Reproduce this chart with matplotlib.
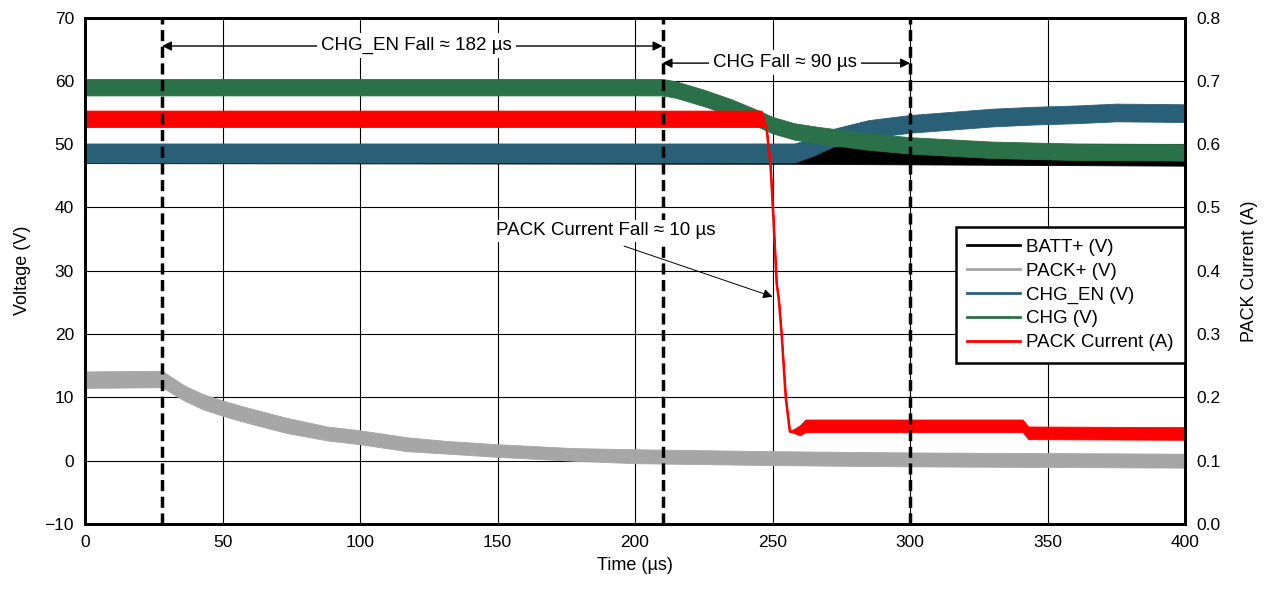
import numpy as np
import matplotlib.pyplot as plt
from matplotlib.lines import Line2D

plt.rcParams['font.family'] = ['Liberation Sans', 'DejaVu Sans']
plt.rcParams['font.size'] = 13

# ______ traces (time in us, centre value, noise half width) ______
batt_t = [0, 255, 400]
batt_v = [48.4, 48.3, 47.9]
batt_hw = [1.4, 1.4, 1.3]

pack_t = [0, 28, 36, 43, 50, 58, 73, 88, 100, 117, 132, 150, 177, 200, 250, 300, 350, 400]
pack_v = [12.8, 12.9, 10.7, 9.3, 8.3, 7.3, 5.6, 4.3, 3.7, 2.6, 2.1, 1.6, 1.0, 0.7, 0.4, 0.2, 0.1, 0.0]
pack_hw = [1.3, 1.3, 1.2, 1.2, 1.2, 1.2, 1.2, 1.1, 1.1, 1.1, 1.0, 1.0, 1.0, 1.1, 1.1, 1.1, 1.1, 1.1]

en_t = [0, 258, 265, 272, 285, 300, 315, 330, 345, 360, 375, 400]
en_v = [48.6, 48.6, 49.6, 51.0, 52.4, 53.2, 53.7, 54.2, 54.5, 54.7, 55.0, 54.9]
en_hw = [1.5, 1.5, 1.4, 1.4, 1.4, 1.4, 1.4, 1.4, 1.4, 1.4, 1.4, 1.4]

chg_t = [0, 210, 215, 225, 235, 245, 250, 258, 267, 285, 300, 330, 360, 400]
chg_v = [59.0, 59.0, 58.6, 57.3, 55.8, 54.0, 53.0, 52.0, 51.4, 50.4, 49.8, 49.1, 48.8, 48.7]
chg_hw = [1.3, 1.3, 1.3, 1.3, 1.3, 1.3, 1.3, 1.3, 1.3, 1.3, 1.3, 1.3, 1.3, 1.3]

cur_t = [0, 246, 247.8, 249.3, 250.3, 251.5, 252.3, 253.3, 254.8, 256.3, 260, 262, 341, 343, 400]
cur_a = [0.640, 0.640, 0.627, 0.564, 0.485, 0.380, 0.354, 0.300, 0.200, 0.146, 0.148, 0.155, 0.155, 0.144, 0.143]
cur_hw = [0.013, 0.013, 0, 0, 0, 0, 0, 0, 0, 0, 0.008, 0.010, 0.010, 0.010, 0.010]

markers_t = [28, 210, 300]

c_batt = '#000000'
c_pack = '#A6A6A6'
c_en = '#2A5F78'
c_chg = '#2A7048'
c_cur = '#FF0000'

fig = plt.figure(figsize=(12.67, 5.92), dpi=100)
ax = fig.add_axes([0.0671, 0.1149, 0.8682, 0.8555])
ax2 = ax.twinx()


def band(axis, t, c, hw, color, z):
    t = np.array(t, dtype=float)
    c = np.array(c, dtype=float)
    hw = np.array(hw, dtype=float)
    axis.fill_between(t, c - hw, c + hw, color=color, lw=0.6, zorder=z)
    axis.plot(t, c, color=color, lw=1.8, zorder=z)


band(ax, batt_t, batt_v, batt_hw, c_batt, 2)
band(ax, pack_t, pack_v, pack_hw, c_pack, 3)
band(ax, en_t, en_v, en_hw, c_en, 4)
band(ax, chg_t, chg_v, chg_hw, c_chg, 5)
band(ax2, cur_t, cur_a, cur_hw, c_cur, 2)

ax.set_xlim(0, 400)
ax.set_ylim(-10, 70)
ax2.set_ylim(0, 0.8)
ax.set_xticks(np.arange(0, 401, 50))
ax.set_yticks(np.arange(-10, 71, 10))
ax2.set_yticks(np.arange(0, 0.81, 0.1))
ax2.set_yticklabels([f'{v:.1f}' for v in np.arange(0, 0.81, 0.1)])
ax.grid(True, color='black', lw=0.8)
ax.set_axisbelow(True)
ax.tick_params(length=0, pad=8, labelsize=12.5)
ax2.tick_params(length=0, pad=8, labelsize=12.5)
for a in (ax, ax2):
    for s in a.spines.values():
        s.set_linewidth(2)
        s.set_color('black')

ax.set_xlabel('Time (µs)', fontsize=13, labelpad=5)
ax.set_ylabel('Voltage (V)', fontsize=13, labelpad=10)
ax2.set_ylabel('PACK Current (A)', fontsize=13, labelpad=15)

# dashed markers and timing annotations
for t in markers_t:
    ax2.axvline(t, color='black', lw=2.5, ls=(0, (3.2, 1.6)), zorder=6)

ap = dict(arrowstyle='<|-|>', color='black', lw=1, mutation_scale=14, shrinkA=0, shrinkB=0)
ax2.annotate('', xy=(28, 65.5), xytext=(210, 65.5), xycoords=ax.transData,
             textcoords=ax.transData, arrowprops=ap, zorder=7)
ax2.text(120.4, 65.6, 'CHG_EN Fall ≈ 182 µs', transform=ax.transData, ha='center', va='center',
         fontsize=13.5, zorder=8, bbox=dict(facecolor='white', edgecolor='none', pad=3))
ax2.annotate('', xy=(210, 62.8), xytext=(300, 62.8), xycoords=ax.transData,
             textcoords=ax.transData, arrowprops=ap, zorder=7)
ax2.text(254.5, 62.9, 'CHG Fall ≈ 90 µs', transform=ax.transData, ha='center', va='center',
         fontsize=13.5, zorder=8, bbox=dict(facecolor='white', edgecolor='none', pad=3))
ax2.annotate('', xy=(250, 25.9), xytext=(196, 33.9), xycoords=ax.transData,
             textcoords=ax.transData, zorder=7,
             arrowprops=dict(arrowstyle='-|>', color='black', lw=0.7, mutation_scale=14,
                             shrinkA=0, shrinkB=0))
ax2.text(189.5, 36.3, 'PACK Current Fall ≈ 10 µs', transform=ax.transData, ha='center',
         va='center', fontsize=13.5, zorder=8,
         bbox=dict(facecolor='white', edgecolor='none', pad=2))

handles = [Line2D([], [], color=c, lw=2) for c in (c_batt, c_pack, c_en, c_chg, c_cur)]
labels = ['BATT+ (V)', 'PACK+ (V)', 'CHG_EN (V)', 'CHG (V)', 'PACK Current (A)']
leg = ax2.legend(handles, labels, loc='upper right', bbox_to_anchor=(1.0, 0.5858),
                 fancybox=False, framealpha=1, edgecolor='black', fontsize=13.5,
                 handlelength=2.8, handletextpad=0.35, labelspacing=0.36,
                 borderpad=0.6, borderaxespad=0)
leg.get_frame().set_linewidth(1.8)
leg.set_zorder(10)

fig.savefig('out.png', dpi=100)
